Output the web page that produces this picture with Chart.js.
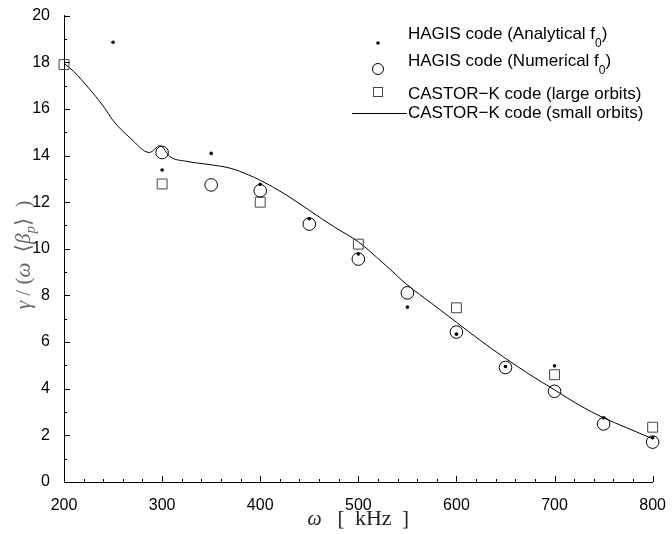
<!DOCTYPE html>
<html>
<head>
<meta charset="utf-8">
<script src="https://cdn.jsdelivr.net/npm/chart.js@4/dist/chart.umd.min.js"></script>
<style>
  html, body { margin: 0; padding: 0; background: #fff; }
  #wrap { width: 672px; height: 534px; }
</style>
</head>
<body>
<div id="wrap"><canvas id="graficoGamma"></canvas></div>
<script>
// valores
const freqAnalit = [250, 300, 350, 400, 450, 500, 550, 600, 650, 700, 750, 800];
const gamaAnalit = [18.86, 13.38, 14.09, 12.77, 11.29, 9.78, 7.50, 6.34, 4.95, 4.98, 2.75, 1.9];

const freqNum = [300, 350, 400, 450, 500, 550, 600, 650, 700, 750, 800];
const gamaNum = [14.13, 12.74, 12.49, 11.06, 9.56, 8.11, 6.43, 4.91, 3.89, 2.49, 1.71];

const freqLarge = [200, 300, 400, 500, 600, 700, 800];
const gamaLarge = [17.9, 12.78, 12.0, 10.2, 7.47, 4.6, 2.35];

const freqSmall = [200, 210, 225, 240, 250, 268, 287, 298, 308, 325, 347, 370, 388, 400, 425,
  450, 475, 500, 525, 550, 575, 600, 625, 650, 675, 700, 725, 750, 775, 800];
const gamaSmall = [17.95, 17.6, 16.9, 16.12, 15.5, 14.73, 14.13, 14.42, 13.95, 13.75, 13.62, 13.45, 13.17, 12.94, 12.35,
  11.65, 10.95, 10.3, 9.4, 8.45, 7.65, 6.85, 6.05, 5.3, 4.6, 3.95, 3.3, 2.75, 2.3, 1.85];

const xTicks = [200, 300, 400, 500, 600, 700, 800];
const yTicks = [0, 2, 4, 6, 8, 10, 12, 14, 16, 18, 20];

const legendas = [
  ['HAGIS code (Analytical f', '0', ')'],
  ['HAGIS code (Numerical f', '0', ')'],
  ['CASTOR\u2212K code (large orbits)', '', ''],
  ['CASTOR\u2212K code (small orbits)', '', '']
];

const pares = (xs, ys) => xs.map((v, i) => ({x: v, y: ys[i]}));

const SANS = '"Liberation Sans", Arial, sans-serif';
const SERIF = '"Liberation Serif", "DejaVu Serif", serif';

const extras = {
  id: 'extras',
  afterDraw(chart) {
    const {ctx, scales: {x, y}, chartArea: a} = chart;
    ctx.save();

    // ticks para dentro
    ctx.strokeStyle = '#000';
    ctx.lineWidth = 1;
    ctx.beginPath();
    for (let v = x.min; v <= x.max; v += 20) {
      const px = Math.round(x.getPixelForValue(v)) + 0.5;
      const len = v % 100 === 0 ? 6 : 3;
      ctx.moveTo(px, a.bottom);
      ctx.lineTo(px, a.bottom - len);
    }
    for (let v = y.min; v <= y.max; v += 1) {
      const py = Math.round(y.getPixelForValue(v)) + 0.5;
      const len = v % 2 === 0 ? 6 : 3;
      ctx.moveTo(a.left, py);
      ctx.lineTo(a.left + len, py);
    }
    ctx.stroke();

    // legenda
    const lx = 378, tx = 408;
    const rows = [
      {my: 43, ty: 38.5},
      {my: 69, ty: 66},
      {my: 92, ty: 98.5},
      {my: 113.5, ty: 117.5}
    ];
    ctx.fillStyle = '#000';
    ctx.beginPath(); ctx.arc(lx, rows[0].my, 1.8, 0, Math.PI * 2); ctx.fill();
    ctx.beginPath(); ctx.arc(lx, rows[1].my, 5.5, 0, Math.PI * 2); ctx.stroke();
    ctx.strokeStyle = '#444';
    ctx.strokeRect(lx - 4.5, rows[2].my - 4.5, 9, 9);
    ctx.strokeStyle = '#000';
    ctx.beginPath(); ctx.moveTo(352, rows[3].my); ctx.lineTo(407, rows[3].my); ctx.stroke();

    ctx.textAlign = 'left';
    ctx.textBaseline = 'alphabetic';
    legendas.forEach((lab, i) => {
      let cx = tx;
      ctx.font = '17px ' + SANS;
      ctx.fillText(lab[0], cx, rows[i].ty);
      cx += ctx.measureText(lab[0]).width;
      if (lab[1]) {
        ctx.font = '12px ' + SANS;
        ctx.fillText(lab[1], cx, rows[i].ty + 8);
        cx += ctx.measureText(lab[1]).width;
        ctx.font = '17px ' + SANS;
        ctx.fillText(lab[2], cx, rows[i].ty);
      }
    });

    // titulo eixo x
    const partsX = [['\u03c9', 'italic 20px ' + SERIF], ['   [  ', '21px ' + SERIF], ['kHz', '22px ' + SERIF], ['  ]', '21px ' + SERIF]];
    drawParts(ctx, partsX, (a.left + a.right) / 2, 525, '#222');

    // titulo eixo y
    ctx.save();
    ctx.translate(23, (a.top + a.bottom) / 2 + 6);
    ctx.rotate(-Math.PI / 2);
    const partsY = [
      ['\u03b3', 'italic 21px ' + SERIF], [' / (', '21px ' + SERIF], ['\u03c9', 'italic 21px ' + SERIF],
      ['  \u27e8', '21px ' + SERIF], ['\u03b2', 'italic 21px ' + SERIF],
      ['p', 'italic 15px ' + SERIF, 5], ['\u27e9  )', '21px ' + SERIF]
    ];
    drawParts(ctx, partsY, 0, 7, '#666');
    ctx.restore();

    ctx.restore();
  }
};

function drawParts(ctx, parts, cx, by, color) {
  let w = 0;
  parts.forEach(p => { ctx.font = p[1]; w += ctx.measureText(p[0]).width; });
  let px = cx - w / 2;
  ctx.fillStyle = color;
  ctx.textAlign = 'left';
  ctx.textBaseline = 'alphabetic';
  parts.forEach(p => {
    ctx.font = p[1];
    ctx.fillText(p[0], px, by + (p[2] || 0));
    px += ctx.measureText(p[0]).width;
  });
}

const dataGamma = {
  datasets: [{
    label: 'HAGIS code (Analytical f0)',
    data: pares(freqAnalit, gamaAnalit),
    showLine: false,
    clip: false,
    pointStyle: 'circle',
    pointRadius: 1.8,
    backgroundColor: '#000',
    borderColor: '#000',
    borderWidth: 0
  }, {
    label: 'HAGIS code (Numerical f0)',
    data: pares(freqNum, gamaNum),
    showLine: false,
    clip: false,
    pointStyle: 'circle',
    pointRadius: 6.3,
    backgroundColor: 'rgba(0,0,0,0)',
    borderColor: '#000',
    borderWidth: 1
  }, {
    label: 'CASTOR-K code (large orbits)',
    data: pares(freqLarge, gamaLarge),
    showLine: false,
    clip: false,
    pointStyle: 'rect',
    pointRadius: 7,
    backgroundColor: 'rgba(0,0,0,0)',
    borderColor: '#444',
    borderWidth: 1
  }, {
    label: 'CASTOR-K code (small orbits)',
    data: pares(freqSmall, gamaSmall),
    showLine: true,
    pointRadius: 0,
    borderColor: '#000',
    borderWidth: 1,
    cubicInterpolationMode: 'monotone'
  }]
};

const configGamma = {
  type: 'scatter',
  data: dataGamma,
  options: {
    responsive: true,
    maintainAspectRatio: false,
    animation: false,
    devicePixelRatio: 1,
    layout: { padding: { top: 13, right: 14, bottom: 0, left: 0 } },
    plugins: { legend: { display: false }, tooltip: { enabled: false } },
    scales: {
      x: {
        type: 'linear', min: 200, max: 800,
        afterFit: s => { s.height = 52; },
        afterBuildTicks: s => { s.ticks = xTicks.map(v => ({value: v})); },
        grid: { display: false },
        border: { display: true, color: '#000', width: 1 },
        ticks: { color: '#000', font: { family: SANS, size: 16 }, padding: 6, maxRotation: 0 }
      },
      y: {
        type: 'linear', min: 0, max: 20,
        afterFit: s => { s.width = 64; },
        afterBuildTicks: s => { s.ticks = yTicks.map(v => ({value: v})); },
        grid: { display: false },
        border: { display: true, color: '#000', width: 1 },
        ticks: { color: '#000', font: { family: SANS, size: 16 }, padding: 6 }
      }
    }
  },
  plugins: [extras]
};

const graficoGamma = new Chart(document.getElementById('graficoGamma'), configGamma);
</script>
</body>
</html>
